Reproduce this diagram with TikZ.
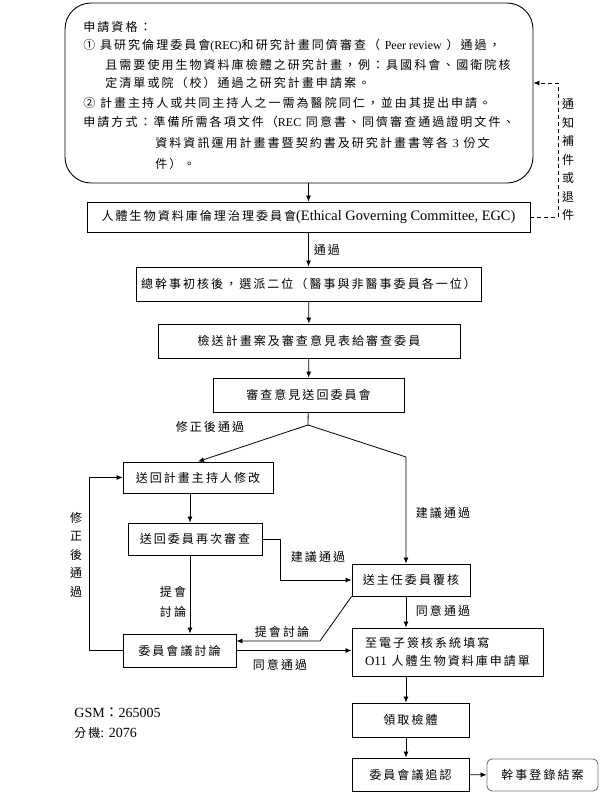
\documentclass[tikz,border=0pt]{standalone}
\usepackage{fontspec}
\setmainfont{Liberation Serif}
\newfontfamily\cjk[LetterSpace=17]{Noto Sans CJK TC}
\newcommand\en[1]{{\rmfamily #1}}
\usetikzlibrary{arrows.meta}

\begin{document}
\begin{tikzpicture}[x=1pt, y=-1pt, line width=0.8pt,
    font=\cjk\fontsize{12}{14}\selectfont,
    box/.style={draw, line width=0.9pt, inner sep=0pt},
    lbl/.style={inner sep=1pt},
    vlbl/.style={inner sep=1pt, align=center, font=\cjk\fontsize{12}{18.5}\selectfont},
    go/.style={-{Latex[length=6pt,width=5pt]}}]

  \useasboundingbox (0,0) rectangle (603,796);

  % application requirements
  \node[draw, line width=0.9pt, rounded corners=26pt, minimum width=468, minimum height=180] (req) at (299,93) {};
  \foreach \x/\y/\t [count=\i] in {83/31.5/{申請資格：},
      83/49.5/{① 具研究倫理委員會\en{(REC)}和研究計畫同儕審查（ \en{Peer review} ）通過，},
      105/69.5/{且需要使用生物資料庫檢體之研究計畫，例：具國科會、國衛院核},
      105/87.5/{定清單或院（校）通過之研究計畫申請案。},
      83/107.5/{② 計畫主持人或共同主持人之一需為醫院同仁，並由其提出申請。},
      83/126.5/{申請方式：準備所需各項文件（\en{REC} 同意書、同儕審查通過證明文件、},
      155/147.5/{資料資訊運用計畫書暨契約書及研究計畫書等各 \en{3} 份文},
      155/168.5/{件）。}}{%
    \node[anchor=base west, inner sep=0pt] (req\i) at (\x,\y) {\t};
  }

  % boxes
  \node[box, minimum width=443, minimum height=30] (egc) at (308.5,217) {人體生物資料庫倫理治理委員會\en{\fontsize{14.4}{16}\selectfont(Ethical Governing Committee, EGC)}};
  \node[box, minimum width=345, minimum height=34] (init) at (308.5,284) {總幹事初核後，選派二位（醫事與非醫事委員各一位）};
  \node[box, minimum width=302, minimum height=34] (send) at (309,341) {檢送計畫案及審查意見表給審查委員};
  \node[box, minimum width=191, minimum height=34] (back) at (308.5,395) {審查意見送回委員會};
  \node[box, minimum width=150, minimum height=31] (revise) at (198,477.5) {送回計畫主持人修改};
  \node[box, minimum width=134, minimum height=32] (rerev) at (195,539) {送回委員再次審查};
  \node[box, minimum width=118, minimum height=32] (chair) at (411,580) {送主任委員覆核};
  \node[box, minimum width=113, minimum height=33] (meet) at (179.5,650.5) {委員會議討論};
  \node[box, minimum width=191, minimum height=48, align=left, font=\cjk\fontsize{12}{18}\selectfont] (form) at (447.5,652) {至電子簽核系統填寫\\\en{\fontsize{13}{18}\selectfont O11} 人體生物資料庫申請單};
  \node[box, minimum width=117, minimum height=34] (pick) at (410.5,720) {領取檢體};
  \node[box, minimum width=117, minimum height=33] (ratify) at (410.5,774.5) {委員會議追認};
  \node[box, draw=black!55, rounded corners=5pt, minimum width=111, minimum height=32] (close) at (542.5,775) {幹事登錄結案};

  % return for missing documents
  \coordinate (ret) at (558,83);
  \draw[go, dash pattern=on 4pt off 3pt] (egc.east) -| (ret) -- (ret -| req.east);
  \node[vlbl] (notice) at (568,159.5) {通\\知\\補\\件\\或\\退\\件};

  % main line
  \draw[go] (req.south -| egc.north) -- (egc.north);
  \draw[go] (egc) -- node[lbl, right=4pt] (pass) {通過} (init);
  \draw[go] (init) -- (send);
  \draw[go] (send) -- (back);

  \coordinate (split) at (308,425);
  \coordinate (rcol) at (406,457);
  \coordinate (lcol) at (190,508);
  \coordinate (bend) at (320,641);
  \draw (back) -- (split);
  \draw[go] (split) -- (revise.north);
  \node[lbl] (revlbl) at (210,427) {修正後通過};
  \draw[go] (split) -- (rcol) -- (chair.north -| rcol);
  \node[lbl] (advlbl1) at (443,513) {建議通過};

  \draw[go] (revise.south -| lcol) -- (rerev.north -| lcol);
  \draw[go] (rerev.east) -- ++(18,0) |- (chair.west);
  \node[lbl] (advlbl2) at (318,557) {建議通過};
  \draw[go] (rerev.south -| lcol) -- (meet.north -| lcol);
  \node[vlbl, font=\cjk\fontsize{12}{20}\selectfont] (disc1) at (173,602) {提會\\討論};

  \draw[go] (chair.south west) -- (bend) -- (bend -| meet.east);
  \node[lbl] (disc2) at (282,632) {提會討論};
  \draw[go] (meet.east) -- (meet.east -| form.west);
  \node[lbl] (agree1) at (280,665) {同意通過};
  \draw[go] (meet.west) -- ++(-33,0) |- (revise.west);
  \node[vlbl] (fixlbl) at (76,554.5) {修\\正\\後\\通\\過};

  \draw[go] (chair.south -| rcol) -- (form.north -| rcol);
  \node[lbl] (agree2) at (443,611) {同意通過};
  \draw[go] (form.south -| rcol) -- (pick.north -| rcol);
  \draw[go] (pick.south -| rcol) -- (ratify.north -| rcol);
  \draw[go] (ratify) -- (close);

  % contact
  \node[lbl, anchor=west] (gsm) at (73,713) {\fontsize{14}{16}\selectfont\en{GSM}：\en{265005}};
  \node[lbl, anchor=west] (ext) at (73,733) {分機\en{\fontsize{14}{16}\selectfont: 2076}};
\end{tikzpicture}
\end{document}
